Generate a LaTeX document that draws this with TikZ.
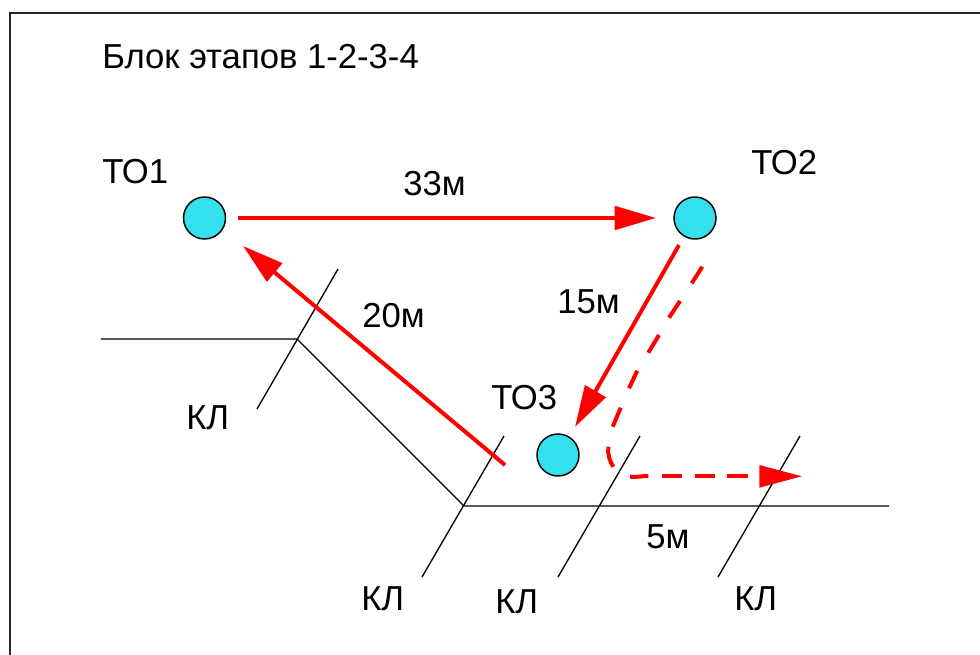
\documentclass[tikz,border=0pt]{standalone}
\usepackage{fontspec}
\setmainfont{Liberation Sans}
\usetikzlibrary{arrows.meta}
\definecolor{toblue}{RGB}{52,224,236}
\definecolor{arrowred}{RGB}{255,0,0}
\tikzset{
  to/.style={circle,draw=black,fill=toblue,line width=1.1pt,minimum size=31.5pt,inner sep=0pt},
  lbl/.style={inner sep=0pt,font=\fontsize{26pt}{30pt}\selectfont,text=black,anchor=base west},
  cable/.style={draw=black,line width=1pt},
  route/.style={draw=arrowred,line width=3pt,-{Triangle[length=31pt,width=17.5pt]}},
  dashpiece/.style={draw=arrowred,line width=3pt},
}
\begin{document}
\begin{tikzpicture}[x=0.75pt,y=-0.75pt]
\useasboundingbox (0,0) rectangle (980,655);
\fill[white] (0,0) rectangle (980,655);
\draw[line width=1.5pt,draw=black!85] (10,655) -- (10,13) -- (980,13);
\node[lbl] (title) at (102,68.5) {Блок этапов 1-2-3-4};
\node[to] (to1) at (204.5,218) {};
\node[to] (to2) at (695,218) {};
\node[to] (to3) at (558,455) {};
\node[lbl] (l1) at (102,184) {ТО1};
\node[lbl] (l2) at (751,175) {ТО2};
\node[lbl] (l3) at (491,409) {ТО3};
\node[lbl] (d33) at (403,196) {33м};
\node[lbl] (d20) at (362,328) {20м};
\node[lbl] (d15) at (557,313.5) {15м};
\node[lbl] (d5) at (646,548) {5м};
\node[lbl] (k1) at (186,429) {КЛ};
\node[lbl] (k2) at (361,610) {КЛ};
\node[lbl] (k3) at (495,613) {КЛ};
\node[lbl] (k4) at (734,610) {КЛ};
% cable lines
\coordinate (a0) at (101,339);
\coordinate (a1) at (297,339);
\coordinate (a2) at (464,506);
\coordinate (a3) at (889,506);
\draw[cable] (a0) -- (a1) -- (a2) -- (a3);
\coordinate (c1a) at (338,269);\coordinate (c1b) at (257,409);
\coordinate (c2a) at (504,436);\coordinate (c2b) at (422,577);
\coordinate (c3a) at (640,436);\coordinate (c3b) at (558,577);
\coordinate (c4a) at (800,436);\coordinate (c4b) at (718,577);
\draw[cable] (c1a) -- (c1b);
\draw[cable] (c2a) -- (c2b);
\draw[cable] (c3a) -- (c3b);
\draw[cable] (c4a) -- (c4b);
% routes
\coordinate (r1s) at (238,218);\coordinate (r1e) at (656,218);
\draw[route] (r1s) -- (r1e);
\coordinate (r2s) at (679,245);\coordinate (r2e) at (575,427);
\draw[route] (r2s) -- (r2e);
\coordinate (r3s) at (505,465);\coordinate (r3e) at (243,246);
\draw[route] (r3s) -- (r3e);
% dashed route
\draw[dashpiece] (702.3,266.7) -- (691.7,283.3);
\draw[dashpiece] (680,301) -- (669,317.7);
\draw[dashpiece] (659,335) -- (648.3,352.7);
\draw[dashpiece] (637.3,370.7) -- (629,388.3);
\draw[dashpiece] (620.7,407.7) -- (612.7,426.7);
\draw[dashpiece] (608.3,446.7) .. controls (607.5,454) and (609.5,461) .. (613.3,466.7);
\draw[dashpiece] (630,476.7) .. controls (637,477.5) and (641,476) .. (648.3,476);
\draw[dashpiece] (662.3,476.3) -- (682.3,476.3);
\draw[dashpiece] (695,476.3) -- (715,476.3);
\draw[dashpiece] (727.3,476.3) -- (748.3,476.3);
\fill[arrowred] (801.7,476.3) -- (759.3,465) -- (759.3,487.7) -- cycle;
\end{tikzpicture}
\end{document}
